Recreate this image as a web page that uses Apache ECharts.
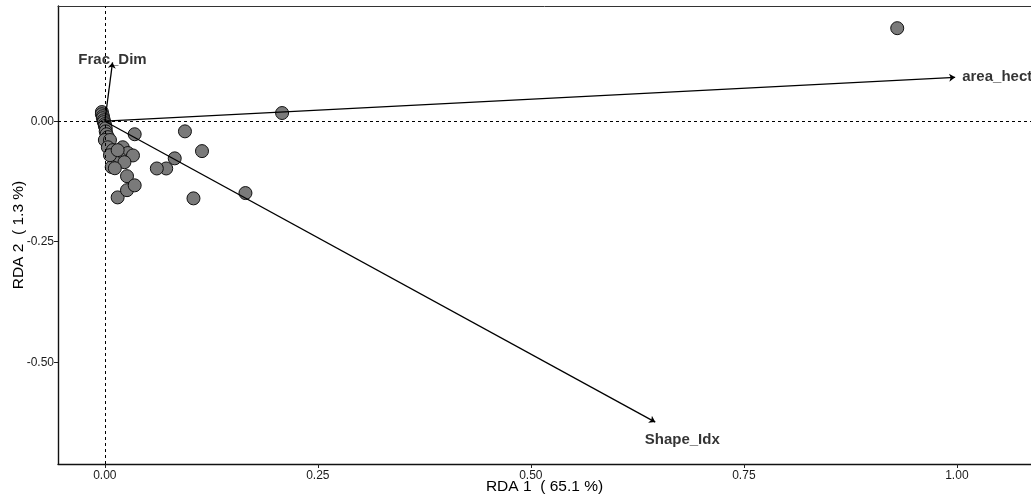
<!DOCTYPE html>
<html>
<head>
<meta charset="utf-8">
<script src="https://cdn.jsdelivr.net/npm/echarts@6/dist/echarts.min.js"></script>
<style>html,body{margin:0;padding:0;background:#fff}#c{width:1031px;height:495px}</style>
</head>
<body>
<div id="c"></div>
<script>
// Site scores (RDA1, RDA2)
const pointX = [0.930, 0.208, 0.165, 0.104, 0.114, 0.094, 0.082, 0.072, 0.061, 0.035, 0.015, 0.026, 0.026, 0.035,
  -0.0035, -0.0035, -0.0023, -0.0023, -0.0012, -0.0012, 0, 0, 0.001, 0.001, 0.002, 0.0035, 0, 0.006, 0.0035, 0.0094,
  0.021, 0.027, 0.033, 0.0176, 0.0117, 0.023, 0.008, 0.0117, 0.006, 0.015];
const pointY = [0.193, 0.017, -0.149, -0.160, -0.062, -0.021, -0.077, -0.098, -0.098, -0.027, -0.158, -0.143, -0.114, -0.133,
  0.019, 0.0145, 0.0104, 0.0062, 0.002, -0.002, -0.006, -0.010, -0.0145, -0.021, -0.027, -0.033, -0.039, -0.039, -0.054, -0.060,
  -0.054, -0.066, -0.071, -0.077, -0.085, -0.085, -0.095, -0.0975, -0.0705, -0.060];
// Explanatory variable arrows
const arrowNames = ['area_hect', 'Shape_Idx', 'Frac_Dim'];
const arrowX = [0.998, 0.646, 0.009];
const arrowY = [0.091, -0.624, 0.122];
// Axis ticks
const xTicks = [0, 0.25, 0.5, 0.75, 1.0];
const yTicks = [0, -0.25, -0.5];

const FONT = 'Liberation Sans, Arial, sans-serif';
const labelStyles = {
  'area_hect': {position: 'right', distance: 7, offset: [0, 0]},
  'Shape_Idx': {position: 'inside', offset: [27, 18]},
  'Frac_Dim': {position: 'inside', offset: [0, -3]}
};

const chart = echarts.init(document.getElementById('c'));
chart.setOption({
  animation: false,
  backgroundColor: '#fff',
  grid: {left: 58, top: 6, right: 0, bottom: 31, outerBoundsMode: 'none', containLabel: false},
  xAxis: [{
    type: 'value', min: -0.055, max: 1.087,
    name: 'RDA 1  ( 65.1 %)', nameLocation: 'middle', nameGap: 15, nameMoveOverlap: false,
    nameTextStyle: {fontFamily: FONT, fontSize: 15.5, color: '#000', verticalAlign: 'top'},
    axisLine: {show: true, onZero: false, lineStyle: {color: '#111', width: 1.4}},
    axisTick: {show: true, length: 4, lineStyle: {color: '#222'}, customValues: xTicks},
    axisLabel: {customValues: xTicks, margin: 6, fontFamily: FONT, fontSize: 12, color: '#1a1a1a',
      formatter: v => v.toFixed(2)},
    splitLine: {show: false}
  }, {
    type: 'value', position: 'top', min: -0.055, max: 1.087,
    axisLine: {show: true, onZero: false, lineStyle: {color: '#333', width: 1}},
    axisTick: {show: false}, axisLabel: {show: false}, splitLine: {show: false}
  }],
  yAxis: {
    type: 'value', min: -0.711, max: 0.239,
    name: 'RDA 2  ( 1.3 %)', nameLocation: 'middle', nameGap: 39, nameMoveOverlap: false,
    nameTextStyle: {fontFamily: FONT, fontSize: 15.5, color: '#000', verticalAlign: 'middle'},
    axisLine: {show: true, onZero: false, lineStyle: {color: '#111', width: 1.4}},
    axisTick: {show: true, length: 4, lineStyle: {color: '#222'}, customValues: yTicks},
    axisLabel: {customValues: yTicks, margin: 4, fontFamily: FONT, fontSize: 12, color: '#1a1a1a',
      formatter: v => v.toFixed(2)},
    splitLine: {show: false}
  },
  series: [{
    type: 'scatter',
    data: pointX.map((x, i) => [x, pointY[i]]),
    symbolSize: 13,
    itemStyle: {color: '#7a7a7a', borderColor: '#111', borderWidth: 1, opacity: 1},
    markLine: {
      silent: true, symbol: 'none', label: {show: false},
      lineStyle: {color: '#000', type: [3, 3], width: 1},
      data: [{xAxis: 0}, {yAxis: 0}]
    },
    z: 2
  }, {
    type: 'lines',
    coordinateSystem: 'cartesian2d',
    data: arrowNames.map((n, i) => ({coords: [[0, 0], [arrowX[i], arrowY[i]]]})),
    symbol: ['none', 'arrow'],
    symbolSize: 6,
    lineStyle: {color: '#000', width: 1.3, opacity: 1},
    z: 3
  }, {
    type: 'scatter',
    symbolSize: 0,
    data: arrowNames.map((n, i) => ({
      name: n, value: [arrowX[i], arrowY[i]],
      label: Object.assign({show: true, formatter: n, fontFamily: FONT, fontSize: 15, fontWeight: 'bold', color: '#000'}, labelStyles[n])
    })),
    silent: true,
    z: 4
  }]
});
</script>
</body>
</html>
